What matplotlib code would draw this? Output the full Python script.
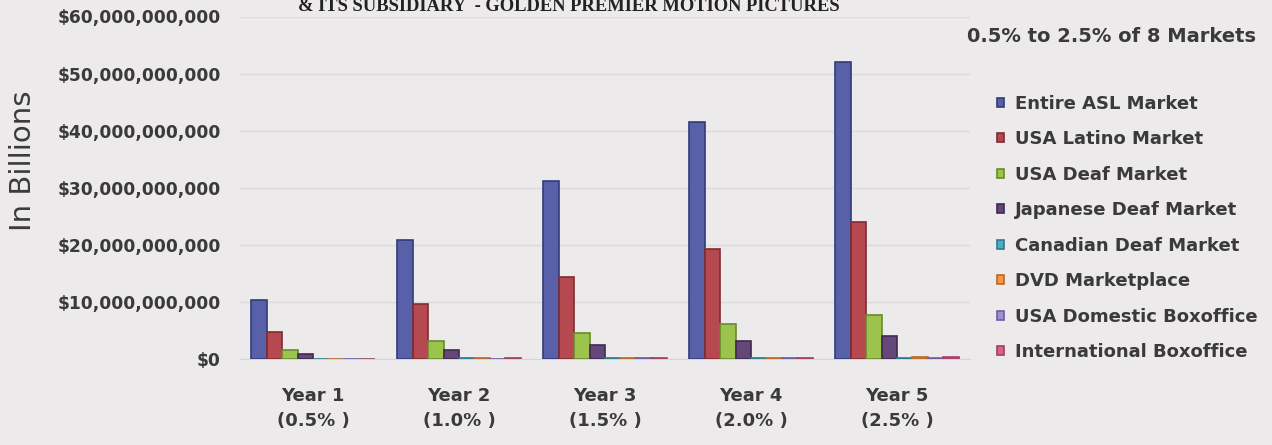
import numpy as np
import matplotlib.pyplot as plt
from matplotlib.ticker import FuncFormatter

years = ["Year 1\n(0.5% )", "Year 2\n(1.0% )", "Year 3\n(1.5% )", "Year 4\n(2.0% )", "Year 5\n(2.5% )"]
markets = ["Entire ASL Market", "USA Latino Market", "USA Deaf Market", "Japanese Deaf Market",
           "Canadian Deaf Market", "DVD Marketplace", "USA Domestic Boxoffice", "International Boxoffice"]

# values in dollars
entire_asl = [10.4e9, 20.8e9, 31.2e9, 41.6e9, 52.0e9]
usa_latino = [4.8e9, 9.6e9, 14.4e9, 19.2e9, 24.0e9]
usa_deaf = [1.5e9, 3.1e9, 4.6e9, 6.1e9, 7.7e9]
japanese_deaf = [0.8e9, 1.6e9, 2.4e9, 3.2e9, 4.0e9]
canadian_deaf = [0.05e9, 0.1e9, 0.15e9, 0.2e9, 0.25e9]
dvd = [0.06e9, 0.12e9, 0.18e9, 0.24e9, 0.3e9]
usa_boxoffice = [0.04e9, 0.08e9, 0.12e9, 0.16e9, 0.2e9]
intl_boxoffice = [0.06e9, 0.12e9, 0.18e9, 0.24e9, 0.3e9]

series = [entire_asl, usa_latino, usa_deaf, japanese_deaf,
          canadian_deaf, dvd, usa_boxoffice, intl_boxoffice]
colors = ["#5760A8", "#B5494F", "#9CC34C", "#65477A",
          "#4BACC6", "#F79646", "#9C8FD2", "#D9628F"]
edges = ["#303C78", "#7E2C33", "#6A8A2C", "#3E2A50",
         "#2E7A8E", "#B8692C", "#6A5FA0", "#A03E66"]

bg = "#ECEAEB"
txt = "#3A3A3A"
font = "DejaVu Sans"

fig = plt.figure(figsize=(12.72, 4.45), dpi=100, facecolor=bg)
ax = fig.add_axes([240 / 1272, 1 - 359 / 445, 730 / 1272, 342.5 / 445], facecolor=bg)

x = np.arange(len(years))
w = 0.106
for i, (vals, c, e) in enumerate(zip(series, colors, edges)):
    ax.bar(x + (i - 3.5) * w, vals, w, color=c, edgecolor=e, linewidth=1.2,
           label=markets[i], zorder=3)

ax.set_xlim(-0.5, 4.5)
ax.set_ylim(0, 60e9)
ax.set_yticks(np.arange(0, 61e9, 10e9))
ax.yaxis.set_major_formatter(FuncFormatter(lambda v, p: "${:,.0f}".format(v)))
ax.set_xticks(x)
ax.set_xticklabels(years)
ax.grid(axis="y", color="#DCDADB", linewidth=1, zorder=0)
for s in ["top", "right", "left"]:
    ax.spines[s].set_visible(False)
ax.spines["bottom"].set_color("#D6D4D5")
ax.tick_params(axis="both", length=0, colors=txt)
ax.tick_params(axis="y", pad=14)
ax.tick_params(axis="x", pad=20)
for lab in ax.get_yticklabels():
    lab.set_fontsize(12.3)
    lab.set_fontweight("bold")
    lab.set_fontfamily(font)
for lab in ax.get_xticklabels():
    lab.set_fontsize(13)
    lab.set_fontweight("bold")
    lab.set_fontfamily(font)
    lab.set_linespacing(1.5)

fig.text(23 / 1272, 1 - 161 / 445, "In Billions", rotation=90, ha="center", va="center",
         fontsize=21, color=txt, family=font)

fig.text(298 / 1272, 1 - 11 / 445, "& ITS SUBSIDIARY  - GOLDEN PREMIER MOTION PICTURES",
         ha="left", va="baseline", fontsize=13.3, fontweight="bold",
         color="#222222", family="Liberation Serif")

fig.text(967 / 1272, 1 - 37 / 445, "0.5% to 2.5% of 8 Markets", ha="left", va="center",
         fontsize=14, fontweight="bold", color=txt, family=font)

leg = ax.legend(loc="upper left", bbox_to_anchor=(1.037, 0.772), frameon=False,
                handlelength=0.4, handleheight=0.4, handletextpad=0.6,
                labelspacing=0.97, borderaxespad=0, borderpad=0,
                prop={"family": font, "weight": "bold", "size": 13})
for t in leg.get_texts():
    t.set_color(txt)

fig.savefig("out.png", dpi=100, facecolor=bg)
